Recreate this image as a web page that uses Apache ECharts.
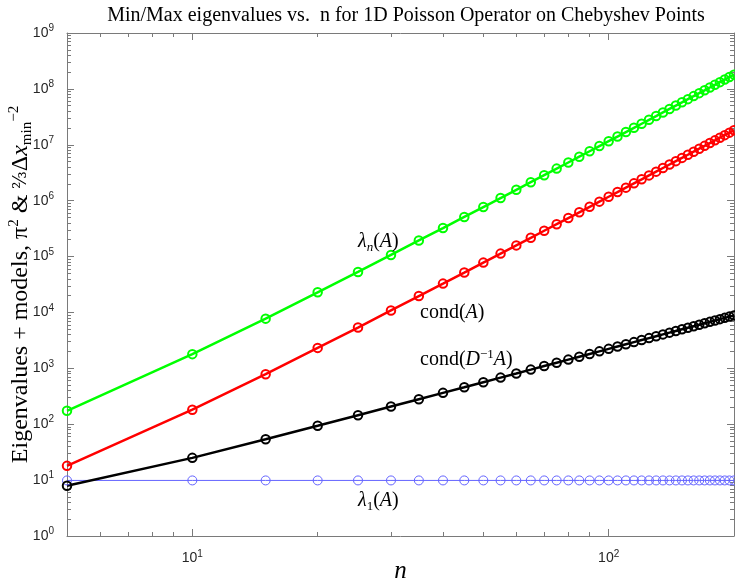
<!DOCTYPE html>
<html>
<head>
<meta charset="utf-8">
<title>chebyshev eigenvalues</title>
<script src="https://cdn.jsdelivr.net/npm/echarts@6/dist/echarts.min.js"></script>
<style>html,body{margin:0;padding:0;background:#fff;}</style>
</head>
<body>
<div id="chart" style="width:735px;height:584px;"></div>
<script>
var nList = [5,10,15,20,25,30,35,40,45,50,55,60,65,70,75,80,85,90,95,100,
             105,110,115,120,125,130,135,140,145,150,155,160,165,170,175,180,185,190,195,200];
var lambdaMax = [174,1795,7750,22900,53000,107000,194000,324000,511000,769000,
                 1114000,1564000,2138000,2857000,3744000,4822000,6118000,7660000,9475000,11600000,
                 14050000,16880000,20120000,23800000,27970000,32650000,37910000,43770000,50290000,57510000,
                 65490000,74260000,83890000,94420000,105900000,118400000,132000000,146800000,162700000,179900000];
var condA = [18,182,785,2320,5370,10870,19650,32820,51760,77900,
             112900,158400,216600,289400,379300,488600,619900,776000,960000,1175000,
             1424000,1711000,2039000,2411000,2833000,3308000,3841000,4435000,5095000,5827000,
             6635000,7524000,8499000,9567000,10730000,12000000,13380000,14870000,16480000,18230000];
var condDA = [7.9,25,54,94,145,207,280,364,459,565,
              682,810,949,1099,1260,1432,1615,1809,2014,2230,
              2457,2695,2944,3204,3475,3757,4050,4354,4669,4995,
              5332,5680,6039,6409,6790,7182,7585,7999,8424,8860];
var lambdaMin = [9.87,9.87,9.87,9.87,9.87,9.87,9.87,9.87,9.87,9.87,
                 9.87,9.87,9.87,9.87,9.87,9.87,9.87,9.87,9.87,9.87,
                 9.87,9.87,9.87,9.87,9.87,9.87,9.87,9.87,9.87,9.87,
                 9.87,9.87,9.87,9.87,9.87,9.87,9.87,9.87,9.87,9.87];
var xMajor = [10, 100];
var xMinor = [5,6,7,8,9,20,30,40,50,60,70,80,90,200];
var yMajor = [1,10,100,1e3,1e4,1e5,1e6,1e7,1e8,1e9];

var yMinor = [];
for (var k = 0; k < 9; k++) {
    for (var m = 2; m < 10; m++) yMinor.push(m * Math.pow(10, k));
}

var chart = echarts.init(document.getElementById('chart'));
var axisCol = '#7a7a7a';
var serif = "'Liberation Serif','DejaVu Serif',serif";

function pair(ys) {
    return nList.map(function (n, i) { return [n, ys[i]]; });
}

var powRich = {
    b: {fontFamily: 'Liberation Sans', fontSize: 14, color: '#262626', lineHeight: 19},
    s: {fontFamily: 'Liberation Sans', fontSize: 10, color: '#262626', lineHeight: 11, verticalAlign: 'top'}
};
function powLabel(v) {
    return '{b|10}{s|' + Math.round(Math.log10(v)) + '}';
}

function xAx(pos, ticks, len, labels) {
    return {
        type: 'log', logBase: 10, min: 5, max: 200, position: pos,
        axisLine: {show: labels, onZero: false, lineStyle: {color: axisCol, width: 1}},
        axisTick: {show: true, inside: true, length: len, customValues: ticks, lineStyle: {color: axisCol}},
        axisLabel: {show: labels && pos === 'bottom', customValues: xMajor, margin: 13,
                    formatter: powLabel, rich: powRich},
        splitLine: {show: false}
    };
}
function yAx(pos, ticks, len, labels) {
    return {
        type: 'log', logBase: 10, min: 1, max: 1e9, position: pos,
        axisLine: {show: labels, onZero: false, lineStyle: {color: axisCol, width: 1}},
        axisTick: {show: true, inside: true, length: len, customValues: ticks, lineStyle: {color: axisCol}},
        axisLabel: {show: labels && pos === 'left', customValues: yMajor, margin: 13,
                    formatter: powLabel, rich: powRich},
        splitLine: {show: false}
    };
}

var xAxes = [xAx('bottom', xMajor, 7, true), xAx('bottom', xMinor, 4, false),
             xAx('top', xMajor, 7, true), xAx('top', xMinor, 4, false)];
xAxes[0].name = 'n';
xAxes[0].nameLocation = 'middle';
xAxes[0].nameGap = 23;
xAxes[0].nameMoveOverlap = false;
xAxes[0].nameTextStyle = {fontFamily: serif, fontStyle: 'italic', fontSize: 25, color: '#000'};

var yAxes = [yAx('left', yMajor, 7, true), yAx('left', yMinor, 4, false),
             yAx('right', yMajor, 7, true), yAx('right', yMinor, 4, false)];
yAxes[0].name = 'Eigenvalues + models, π{sup|2} & {fr|⅔}Δ{it|x}{sub|min}{sup|−2}';
yAxes[0].nameLocation = 'middle';
yAxes[0].nameGap = 32;
yAxes[0].nameMoveOverlap = false;
yAxes[0].nameTextStyle = {
    fontFamily: serif, fontSize: 24, color: '#000', lineHeight: 28,
    rich: {
        sup: {fontFamily: serif, fontSize: 15, lineHeight: 14, verticalAlign: 'top', color: '#000'},
        sub: {fontFamily: serif, fontSize: 15, lineHeight: 14, verticalAlign: 'bottom', color: '#000'},
        it: {fontFamily: serif, fontSize: 24, fontStyle: 'italic', lineHeight: 28, color: '#000'},
        fr: {fontFamily: "'DejaVu Serif',serif", fontSize: 18, lineHeight: 28, color: '#000'}
    }
};

function lineSeries(name, ys, col, w, size, mw) {
    return {
        name: name, type: 'line', data: pair(ys),
        xAxisIndex: 0, yAxisIndex: 0,
        symbol: 'circle', symbolSize: size, showAllSymbol: true,
        lineStyle: {color: col, width: w},
        itemStyle: {color: 'rgba(255,255,255,0)', borderColor: col, borderWidth: mw},
        emphasis: {disabled: true},
        animation: false
    };
}

var annRich = {
    r: {fontFamily: serif, fontSize: 20, lineHeight: 24, color: '#000'},
    i: {fontFamily: serif, fontSize: 20, fontStyle: 'italic', lineHeight: 24, color: '#000'},
    sub: {fontFamily: serif, fontSize: 13, fontStyle: 'italic', lineHeight: 13, verticalAlign: 'bottom', color: '#000'},
    subr: {fontFamily: serif, fontSize: 13, lineHeight: 13, verticalAlign: 'bottom', color: '#000'},
    sup: {fontFamily: serif, fontSize: 13, lineHeight: 13, verticalAlign: 'top', color: '#000'}
};
function ann(x, y, txt) {
    return {type: 'text', left: x, top: y, z: 50,
            style: {text: txt, rich: annRich, fill: '#000', font: '20px ' + serif}};
}

var option = {
    animation: false,
    backgroundColor: '#fff',
    title: {
        text: 'Min/Max eigenvalues vs.  n for 1D Poisson Operator on Chebyshev Points',
        left: 401, top: 1, textAlign: 'center',
        textStyle: {fontFamily: serif, fontSize: 20, fontWeight: 'normal', color: '#000'}
    },
    grid: {left: 67, right: 1, top: 33, bottom: 48, containLabel: false, outerBoundsMode: 'none'},
    xAxis: xAxes,
    yAxis: yAxes,
    series: [
        lineSeries('lambda1', lambdaMin, '#6464ff', 1, 9, 1),
        lineSeries('condDA', condDA, '#000000', 2.5, 8.5, 2),
        lineSeries('condA', condA, '#ff0000', 2.5, 8.5, 2),
        lineSeries('lambdaN', lambdaMax, '#00ff00', 2.5, 8.5, 2)
    ],
    graphic: [
        ann(358, 232, '{i|λ}{sub|n}{r|(}{i|A}{r|)}'),
        ann(420, 303, '{r|cond(}{i|A}{r|)}'),
        ann(420, 348, '{r|cond(}{i|D}{sup|−1}{i|A}{r|)}'),
        ann(358, 491, '{i|λ}{subr|1}{r|(}{i|A}{r|)}')
    ]
};
chart.setOption(option);
</script>
</body>
</html>
